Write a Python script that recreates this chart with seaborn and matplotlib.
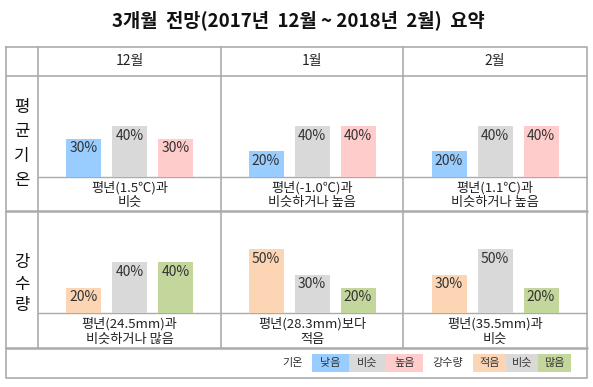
import matplotlib
matplotlib.use("Agg")
import matplotlib.pyplot as plt
import seaborn as sns
import pandas as pd
from matplotlib.patches import Rectangle

# data
title = '3개월  전망(2017년  12월 ~ 2018년  2월)  요약'
months = ['12월', '1월', '2월']
row_names = ['평균기온', '강수량']
temp_cats = ['낮음', '비슷', '높음']
rain_cats = ['적음', '비슷', '많음']
temp_probs = [[30, 40, 30], [20, 40, 40], [20, 40, 40]]
rain_probs = [[20, 40, 40], [50, 30, 20], [30, 50, 20]]
temp_notes = ['평년(1.5℃)과\n비슷', '평년(-1.0℃)과\n비슷하거나 높음', '평년(1.1℃)과\n비슷하거나 높음']
rain_notes = ['평년(24.5mm)과\n비슷하거나 많음', '평년(28.3mm)보다\n적음', '평년(35.5mm)과\n비슷']
temp_colors = ['#99CCFF', '#D9D9D9', '#FFCCCC']
rain_colors = ['#FCD5B5', '#D9D9D9', '#C3D69B']
legend_groups = ['기온', '강수량']

sns.set_theme(style='white')
plt.rcParams['font.family'] = ['Noto Sans CJK KR', 'DejaVu Sans']

W, H = 593, 387
fig = plt.figure(figsize=(W / 100, H / 100), dpi=100)

# background axes in pixel coords
bg = fig.add_axes([0, 0, 1, 1])
bg.set_xlim(0, W)
bg.set_ylim(H, 0)
bg.axis('off')

# table layout (pixels)
x_left, x_lab, x_right = 6, 38, 587
col_x = [38, 221, 403, 587]
y_top, y_head = 47, 76
rows = [(76, 177, 211), (212, 313, 348)]  # top, baseline, bottom
y_leg = 378
px_per_pct = 51 / 40
bar_step = 46
line_c = '#ABABAB'

bg.text(298, 20, title, ha='center', va='center', fontsize=13.5, fontweight='bold', color='#111111')

# grid lines
bg.plot([x_left, x_right, x_right, x_left, x_left], [y_top, y_top, y_leg, y_leg, y_top], color=line_c, lw=1.2)
bg.plot([x_left, x_right], [y_head, y_head], color=line_c, lw=1.2)
for top, base, bot in rows:
    bg.plot([x_left, x_right], [bot, bot], color=line_c, lw=1.8)
    bg.plot([x_lab, x_right], [base, base], color=line_c, lw=1.0)
for cx in col_x[:-1]:
    bg.plot([cx, cx], [y_top, rows[-1][2]], color=line_c, lw=1.2)

for i, m in enumerate(months):
    bg.text((col_x[i] + col_x[i + 1]) / 2, 61, m, ha='center', va='center', fontsize=10, color='#222222')

# row labels
row_spacing = [1.55, 1.32]
row_center = [144, 284]
for name, ls, yc in zip(row_names, row_spacing, row_center):
    bg.text(22, yc, '\n'.join(name), ha='center', va='center', fontsize=12,
            linespacing=ls, color='#111111')

all_probs = [temp_probs, rain_probs]
all_cats = [temp_cats, rain_cats]
all_cols = [temp_colors, rain_colors]
all_notes = [temp_notes, rain_notes]

for r, (top, base, bot) in enumerate(rows):
    for c in range(3):
        x0, x1 = col_x[c], col_x[c + 1]
        ax = fig.add_axes([x0 / W, 1 - base / H, (x1 - x0) / W, (base - top) / H])
        df = pd.DataFrame({'cat': all_cats[r], 'val': all_probs[r][c]})
        sns.barplot(data=df, x='cat', y='val', hue='cat', order=all_cats[r],
                    hue_order=all_cats[r], palette=all_cols[r], saturation=1,
                    width=35 / bar_step, linewidth=0, legend=False, ax=ax)
        half = (x1 - x0) / bar_step / 2
        ax.set_xlim(1 - half, 1 + half)
        ax.set_ylim(0, (base - top) / px_per_pct)
        ax.axis('off')
        for p, v in zip(ax.patches, all_probs[r][c]):
            ax.annotate(f'{v}%', (p.get_x() + p.get_width() / 2, p.get_height()),
                        xytext=(0, -7), textcoords='offset points',
                        ha='center', va='center', fontsize=10, color='#333333')
        bg.text((x0 + x1) / 2, (base + bot) / 2 + 1, all_notes[r][c], ha='center', va='center',
                fontsize=9.5, linespacing=1.2, color='#222222')

# legend
legend_layout = [(293, 312, 37), (448, 473, 32.7)]
for g, (tx, bx, bw) in enumerate(legend_layout):
    bg.text(tx, 363, legend_groups[g], ha='center', va='center', fontsize=8, color='#333333')
    for k in range(3):
        bg.add_patch(Rectangle((bx + k * bw, 354), bw, 18, facecolor=all_cols[g][k], edgecolor='none'))
        bg.text(bx + k * bw + bw / 2, 363, all_cats[g][k], ha='center', va='center', fontsize=8, color='#333333')

fig.savefig('out.png', dpi=100)
